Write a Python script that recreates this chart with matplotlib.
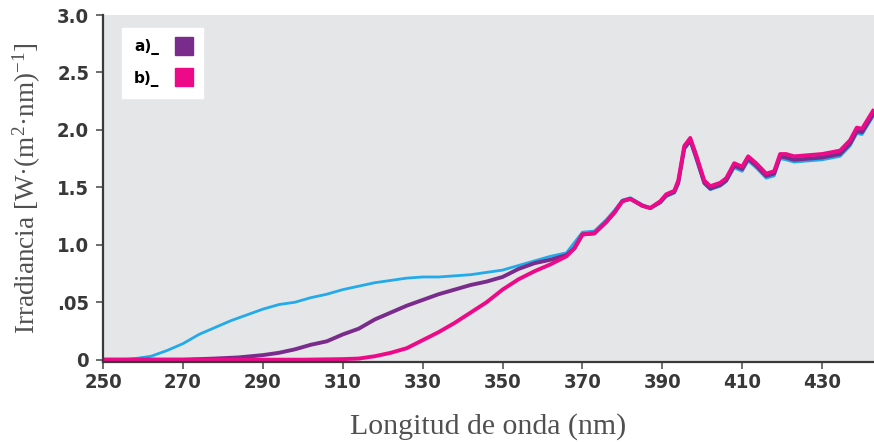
"""Irradiancia espectral UV-visible: tres curvas superpuestas."""
import matplotlib
matplotlib.use("Agg")
import matplotlib.pyplot as plt
from matplotlib.lines import Line2D

# tramo bajo (250-368 nm), distinto para cada curva
wl_cyan = [250, 255, 258, 262, 266, 270, 274, 278, 282, 286, 290, 294, 298, 302,
           306, 310, 314, 318, 322, 326, 330, 334, 338, 342, 346, 350, 354, 358,
           362, 366, 368]
val_cyan = [0.0, 0.0, 0.01, 0.03, 0.08, 0.14, 0.22, 0.28, 0.34, 0.39, 0.44, 0.48,
            0.50, 0.54, 0.57, 0.61, 0.64, 0.67, 0.69, 0.71, 0.72, 0.72, 0.73, 0.74,
            0.76, 0.78, 0.82, 0.86, 0.90, 0.93, 1.02]

wl_purple = [250, 270, 278, 284, 290, 294, 298, 302, 306, 310, 314, 318, 322, 326,
             330, 334, 338, 342, 346, 350, 354, 358, 362, 366, 368]
val_purple = [0.0, 0.0, 0.01, 0.02, 0.04, 0.06, 0.09, 0.13, 0.16, 0.22, 0.27, 0.35,
              0.41, 0.47, 0.52, 0.57, 0.61, 0.65, 0.68, 0.72, 0.79, 0.84, 0.87,
              0.91, 0.97]

wl_pink = [250, 300, 310, 314, 318, 322, 326, 330, 334, 338, 342, 346, 350, 354,
           358, 362, 366, 368]
val_pink = [0.0, 0.0, 0.005, 0.01, 0.03, 0.06, 0.10, 0.17, 0.24, 0.32, 0.41, 0.50,
            0.61, 0.70, 0.77, 0.83, 0.90, 0.97]

# tramo comun (370-443 nm)
wl_tail = [370, 373, 376, 378, 380, 382, 385, 387, 389.5, 391, 393, 394, 395.5,
           397, 398.5, 400.5, 402, 404.5, 406, 408, 410, 411.5, 413.5, 416, 418,
           419.5, 421, 423, 430, 434.5, 437, 438.7, 440, 443]
tail_cyan = [1.11, 1.12, 1.22, 1.30, 1.39, 1.41, 1.35, 1.32, 1.37, 1.42, 1.45, 1.53,
             1.83, 1.90, 1.74, 1.53, 1.48, 1.51, 1.55, 1.67, 1.64, 1.73, 1.67, 1.58,
             1.60, 1.75, 1.74, 1.72, 1.74, 1.77, 1.86, 1.97, 1.96, 2.13]
tail_purple = [1.09, 1.10, 1.20, 1.28, 1.38, 1.40, 1.34, 1.32, 1.37, 1.43, 1.46, 1.54,
               1.84, 1.91, 1.76, 1.54, 1.49, 1.52, 1.56, 1.69, 1.66, 1.75, 1.69, 1.60,
               1.62, 1.77, 1.76, 1.74, 1.76, 1.79, 1.88, 1.99, 1.98, 2.15]
tail_pink = [1.09, 1.10, 1.20, 1.28, 1.38, 1.40, 1.34, 1.32, 1.38, 1.44, 1.47, 1.56,
             1.86, 1.93, 1.78, 1.56, 1.51, 1.54, 1.58, 1.71, 1.68, 1.77, 1.71, 1.62,
             1.64, 1.79, 1.79, 1.77, 1.79, 1.82, 1.91, 2.02, 2.01, 2.18]

x_ticks = [250, 270, 290, 310, 330, 350, 370, 390, 410, 430]
y_ticks = [0, 0.5, 1.0, 1.5, 2.0, 2.5, 3.0]
y_ticklabels = ['0', '.05', '1.0', '1.5', '2.0', '2.5', '3.0']
legend_labels = ['a)_', 'b)_']

CYAN = '#22aaea'
PURPLE = '#7a2c8c'
PINK = '#ec0a88'

plt.rcParams['mathtext.fontset'] = 'custom'
plt.rcParams['mathtext.rm'] = 'Liberation Serif'

fig = plt.figure(figsize=(8.74, 4.42), dpi=100)
ax = fig.add_axes([0.118, 0.181, 0.882, 0.785])
ax.set_facecolor('#e5e6e8')

ax.plot(wl_cyan + wl_tail, val_cyan + tail_cyan, color=CYAN, lw=2.0,
        solid_capstyle='butt')
ax.plot(wl_purple + wl_tail, val_purple + tail_purple, color=PURPLE, lw=2.8,
        solid_capstyle='butt')
ax.plot(wl_pink + wl_tail, val_pink + tail_pink, color=PINK, lw=2.8,
        solid_capstyle='butt')

ax.set_xlim(250, 443)
ax.set_ylim(-0.02, 3.0)

for side in ('top', 'right'):
    ax.spines[side].set_visible(False)
for side in ('left', 'bottom'):
    ax.spines[side].set_color('#3a3a3a')
    ax.spines[side].set_linewidth(1.6)

tick_font = dict(family='DejaVu Sans', stretch='condensed', size=14.5,
                 weight='bold')
ax.set_xticks(x_ticks)
ax.set_xticklabels([str(t) for t in x_ticks], **tick_font, color='#383838')
ax.set_yticks(y_ticks)
ax.set_yticklabels(y_ticklabels, **tick_font, color='#383838')
ax.tick_params(axis='both', direction='out', length=5, width=1.2,
               colors='#555555', labelcolor='#383838')
ax.tick_params(axis='x', pad=3)
ax.tick_params(axis='y', pad=5)

serif = ['Liberation Serif', 'DejaVu Serif']
ax.set_xlabel('Longitud de onda (nm)', family=serif, size=21.5, color='#505050',
              labelpad=15)
ax.set_ylabel(r'Irradiancia [W·(m$\mathregular{^{2}}$·nm)$\mathregular{^{-1}}$]',
              family=serif, size=19.5, color='#505050', labelpad=10)

handles = [Line2D([], [], ls='none', marker='s', markersize=13, color=c)
           for c in (PURPLE, PINK)]
leg = ax.legend(handles, legend_labels, loc='upper left',
                bbox_to_anchor=(0.025, 0.963), borderaxespad=0, markerfirst=False,
                frameon=True, fancybox=False, handlelength=1.0, handletextpad=1.1,
                labelspacing=1.0, borderpad=0.75,
                prop=dict(family='DejaVu Sans', weight='bold', size=11))
leg.get_frame().set_facecolor('white')
leg.get_frame().set_edgecolor('white')
leg.get_frame().set_alpha(1.0)

fig.savefig('out.png', dpi=100, facecolor='white')
